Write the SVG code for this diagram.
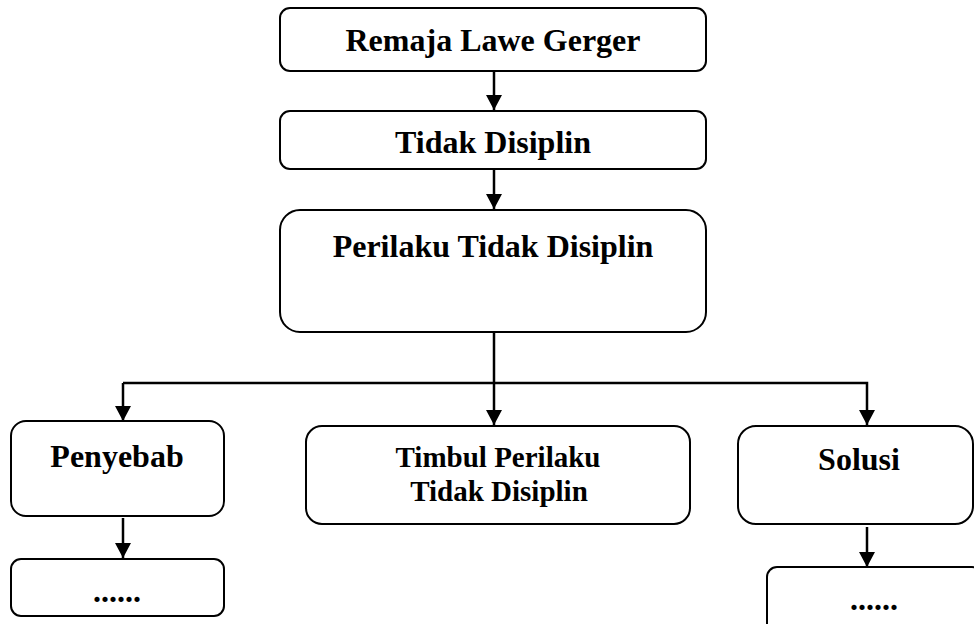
<svg xmlns="http://www.w3.org/2000/svg" width="974" height="624" viewBox="0 0 974 624">
<style>
.box{fill:#fff;stroke:#000;stroke-width:2}
.t{font-family:"Liberation Serif","Times New Roman",serif;font-weight:bold;font-size:32px;fill:#000;text-anchor:middle}
.s{font-size:29px}
.c{fill:none;stroke:#000;stroke-width:2.5}
</style>
<defs>
<marker id="ah" markerUnits="userSpaceOnUse" markerWidth="16" markerHeight="16" viewBox="0 0 16 16" refX="15" refY="8" orient="auto">
<path d="M0,0 L15,8 L0,16 Z" fill="#000"/>
</marker>
</defs>
<rect width="974" height="624" fill="#fff"/>
<g id="connectors">
<line class="c" x1="494" y1="71" x2="494" y2="110" marker-end="url(#ah)"/>
<line class="c" x1="494" y1="169" x2="494" y2="209" marker-end="url(#ah)"/>
<line class="c" x1="494" y1="332" x2="494" y2="425" marker-end="url(#ah)"/>
<polyline class="c" points="123,383 867,383 867,425" marker-end="url(#ah)"/>
<line class="c" x1="123" y1="383" x2="123" y2="421" marker-end="url(#ah)"/>
<line class="c" x1="123" y1="518" x2="123" y2="558" marker-end="url(#ah)"/>
<line class="c" x1="867" y1="527" x2="867" y2="567" marker-end="url(#ah)"/>
</g>
<g id="n-remaja">
<rect class="box" x="280" y="8" width="426" height="63" rx="10"/>
<text class="t" x="493" y="51">Remaja Lawe Gerger</text>
</g>
<g id="n-tidak">
<rect class="box" x="280" y="111" width="426" height="58" rx="10"/>
<text class="t" x="493" y="153">Tidak Disiplin</text>
</g>
<g id="n-perilaku">
<rect class="box" x="280" y="210" width="426" height="122" rx="20"/>
<text class="t" x="493" y="257">Perilaku Tidak Disiplin</text>
</g>
<g id="n-penyebab">
<rect class="box" x="11" y="421" width="213" height="95" rx="15"/>
<text class="t" x="117" y="467">Penyebab</text>
</g>
<g id="n-penyebab-sub">
<rect class="box" x="11" y="559" width="213" height="57" rx="10"/>
<text class="t" x="117" y="602">......</text>
</g>
<g id="n-timbul">
<rect class="box" x="306" y="426" width="384" height="98" rx="16"/>
<text class="t s" x="498" y="467">Timbul Perilaku</text>
<text class="t s" x="499" y="501">Tidak Disiplin</text>
</g>
<g id="n-solusi">
<rect class="box" x="738" y="426" width="235" height="98" rx="18"/>
<text class="t" x="859" y="470">Solusi</text>
</g>
<g id="n-solusi-sub">
<rect class="box" x="767" y="567" width="215" height="80" rx="10"/>
<text class="t" x="874" y="610">......</text>
</g>
</svg>
